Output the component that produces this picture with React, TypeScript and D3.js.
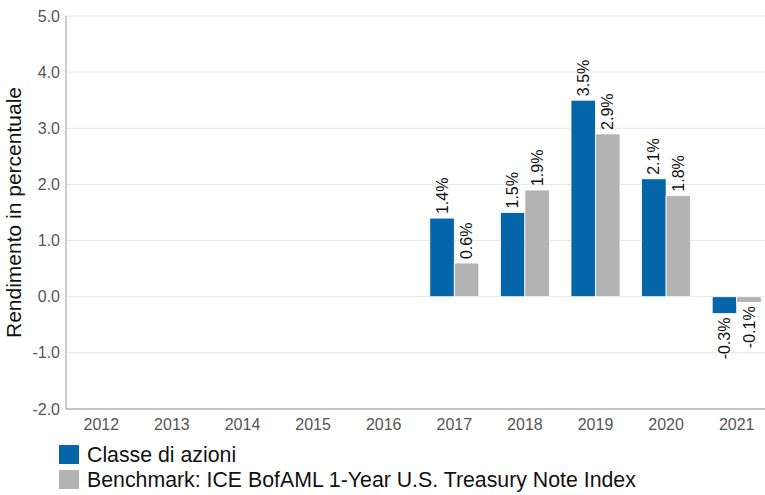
import React from "react";
import * as d3 from "d3";

const years = ["2012", "2013", "2014", "2015", "2016", "2017", "2018", "2019", "2020", "2021"];
const fund: (number | null)[] = [null, null, null, null, null, 1.4, 1.5, 3.5, 2.1, -0.3];
const bench: (number | null)[] = [null, null, null, null, null, 0.6, 1.9, 2.9, 1.8, -0.1];
const yTicks = [-2, -1, 0, 1, 2, 3, 4, 5];
const seriesNames = ["Classe di azioni", "Benchmark: ICE BofAML 1-Year U.S. Treasury Note Index"];
const colors = ["#0466a9", "#b3b3b3"];

export default function App() {
  const W = 765, H = 495;
  const left = 66, right = 772, top = 16, bottom = 409;
  const x = d3.scaleBand<string>().domain(years).range([left, right]);
  const y = d3.scaleLinear().domain([-2, 5]).range([bottom, top]);
  const barW = 24.5;
  const series = [fund, bench];
  const font = "Arial, 'Liberation Sans', sans-serif";
  return (
    <svg width={W} height={H} style={{ position: "absolute", left: 0, top: 0, background: "#fff" }} fontFamily={font}>
      {yTicks.map((t) => (
        <g key={t}>
          <line x1={left} x2={W} y1={y(t)} y2={y(t)} stroke="#e6e6e6" strokeWidth={1} />
          <text x={left - 6} y={y(t)} dy="0.35em" textAnchor="end" fontSize={16} fill="#555">
            {t.toFixed(1)}
          </text>
        </g>
      ))}
      <line x1={left} x2={left} y1={top} y2={bottom} stroke="#999" />
      <line x1={left} x2={W} y1={bottom} y2={bottom} stroke="#999" />
      {years.map((yr) => (
        <text key={yr} x={x(yr)! + x.bandwidth() / 2} y={bottom + 15} dy="0.35em" textAnchor="middle" fontSize={16} fill="#555">
          {yr}
        </text>
      ))}
      {series.map((s, si) =>
        s.map((v, i) => {
          if (v === null) return null;
          const cx = x(years[i])! + x.bandwidth() / 2;
          const bx = si === 0 ? cx - barW : cx;
          const y0 = y(0), y1 = y(v);
          const lx = bx + barW / 2;
          return (
            <g key={si + "-" + i}>
              <rect x={bx} y={Math.min(y0, y1)} width={barW} height={Math.abs(y1 - y0)} fill={colors[si]} stroke="#fff" strokeWidth={0.8} />
              <text
                transform={`translate(${lx},${v >= 0 ? y1 - 4 : y1 + 4}) rotate(-90)`}
                dy="0.35em"
                textAnchor={v >= 0 ? "start" : "end"}
                fontSize={16}
                fill="#111"
              >
                {v.toFixed(1) + "%"}
              </text>
            </g>
          );
        })
      )}
      <text transform={`translate(21,${(top + bottom) / 2}) rotate(-90)`} textAnchor="middle" fontSize={21} fill="#111">
        Rendimento in percentuale
      </text>
      {seriesNames.map((n, i) => (
        <g key={n}>
          <rect x={59} y={445 + i * 25} width={20} height={19} fill={colors[i]} />
          <text x={87} y={455 + i * 25} dy="0.35em" fontSize={21.3} fill="#111">
            {n}
          </text>
        </g>
      ))}
    </svg>
  );
}
